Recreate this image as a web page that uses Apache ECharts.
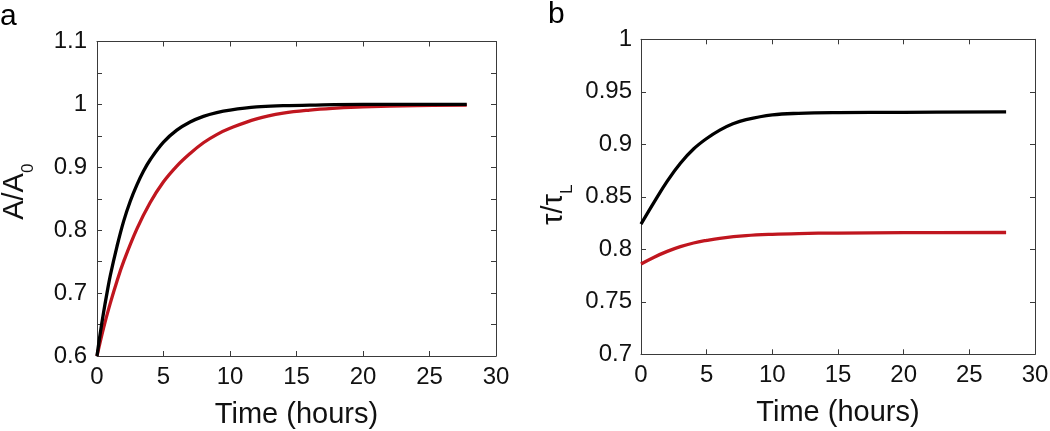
<!DOCTYPE html>
<html>
<head>
<meta charset="utf-8">
<script src="https://cdn.jsdelivr.net/npm/echarts@6/dist/echarts.min.js"></script>
<style>
html,body{margin:0;padding:0;background:#fff;}
#chart{width:1050px;height:431px;}
</style>
</head>
<body>
<div id="chart"></div>
<script>
// ---- Panel a: A/A0 vs time ----
const timeA_black = [0, 0.25, 0.5, 0.75, 1, 1.5, 2, 2.5, 3, 3.5, 4, 5, 6, 7, 8, 9, 10, 12, 14, 16, 20, 24, 27.8];
const valA_black  = [0.6, 0.637, 0.67, 0.7, 0.728, 0.774, 0.814, 0.846, 0.872, 0.894, 0.912, 0.94, 0.959, 0.972, 0.981, 0.987, 0.991, 0.996, 0.998, 0.999, 1.0, 1.0, 1.0];
const timeA_red   = [0, 0.5, 1, 1.5, 2, 3, 4, 5, 6, 7, 8, 9, 10, 12, 14, 16, 18, 20, 24, 27.8];
const valA_red    = [0.6, 0.645, 0.684, 0.719, 0.75, 0.802, 0.844, 0.877, 0.902, 0.922, 0.939, 0.952, 0.962, 0.977, 0.986, 0.991, 0.994, 0.996, 0.998, 0.999];

// ---- Panel b: tau/tauL vs time ----
const timeB_black = [0, 1, 2, 3, 4, 5, 6, 7, 8, 10, 12, 15, 20, 27.8];
const valB_black  = [0.824, 0.845, 0.865, 0.882, 0.8955, 0.9055, 0.9135, 0.9195, 0.9235, 0.928, 0.9295, 0.9302, 0.9305, 0.9308];
const timeB_red   = [0, 1, 2, 3, 4, 5, 6, 8, 10, 12, 15, 20, 27.8];
const valB_red    = [0.786, 0.7925, 0.798, 0.8025, 0.806, 0.8085, 0.8105, 0.813, 0.8143, 0.815, 0.8155, 0.8158, 0.816];

// ---- Axes / labels ----
const xTicks = {min: 0, max: 30, interval: 5};
const yTicksA = {min: 0.6, max: 1.1, interval: 0.05};
const yTicksB = {min: 0.7, max: 1.0, interval: 0.05};
const panelLabels = ['a', 'b'];
const xTitle = 'Time (hours)';

const FONT = "'Liberation Sans', Arial, sans-serif";
const AXIS_COLOR = '#3a3a3a';
const TEXT_COLOR = '#111';
const RED = '#c0161f';

function pairs(t, v) { return t.map((x, i) => [x, v[i]]); }
function fmt(v) { return String(parseFloat(v.toFixed(2))); }

function baseAxis(extra) {
  return Object.assign({
    type: 'value',
    axisLine: {show: true, onZero: false, lineStyle: {color: AXIS_COLOR, width: 1}},
    axisTick: {show: true, inside: true, length: 5, lineStyle: {color: AXIS_COLOR}},
    splitLine: {show: false},
    axisLabel: {fontFamily: FONT, fontSize: 24, color: TEXT_COLOR}
  }, extra);
}

const grids = [
  {left: 97, top: 41.5, width: 399, height: 314.5, containLabel: false, outerBoundsMode: 'none'},
  {left: 641, top: 39.3, width: 394, height: 315, containLabel: false, outerBoundsMode: 'none'}
];

const xAxes = [];
const yAxes = [];
[0, 1].forEach(g => {
  xAxes.push(baseAxis(Object.assign({gridIndex: g, position: 'bottom',
    name: xTitle, nameLocation: 'middle', nameGap: 44,
    nameTextStyle: {fontFamily: FONT, fontSize: 29, color: TEXT_COLOR},
    axisLabel: {fontFamily: FONT, fontSize: 24, color: TEXT_COLOR, margin: 9}
  }, xTicks)));
  xAxes.push(baseAxis(Object.assign({gridIndex: g, position: 'top',
    axisLabel: {show: false}}, xTicks)));
});

yAxes.push(baseAxis(Object.assign({gridIndex: 0, position: 'left',
  name: '{m|A/A}{s|0}', nameLocation: 'middle', nameGap: 67,
  nameTextStyle: {fontFamily: FONT, color: TEXT_COLOR, padding: [0, 0, 0, 14], rich: {
    m: {fontFamily: FONT, fontSize: 29, lineHeight: 30, verticalAlign: 'top', color: TEXT_COLOR},
    s: {fontFamily: FONT, fontSize: 17, lineHeight: 17, verticalAlign: 'top', padding: [20, 0, 0, 0], color: TEXT_COLOR}
  }},
  axisLabel: {fontFamily: FONT, fontSize: 24, color: TEXT_COLOR, margin: 10,
    formatter: v => (Math.round(v * 100) % 10 === 0 ? fmt(v) : '')}
}, yTicksA)));
yAxes.push(baseAxis(Object.assign({gridIndex: 0, position: 'right',
  axisLabel: {show: false}}, yTicksA)));

yAxes.push(baseAxis(Object.assign({gridIndex: 1, position: 'left',
  name: '{m|τ/τ}{s|L}', nameLocation: 'middle', nameGap: 72,
  nameTextStyle: {fontFamily: FONT, color: TEXT_COLOR, padding: [0, 16, 0, 0], rich: {
    m: {fontFamily: FONT, fontSize: 29, lineHeight: 30, verticalAlign: 'top', color: TEXT_COLOR},
    s: {fontFamily: FONT, fontSize: 17, lineHeight: 17, verticalAlign: 'top', padding: [20, 0, 0, 0], color: TEXT_COLOR}
  }},
  axisLabel: {fontFamily: FONT, fontSize: 24, color: TEXT_COLOR, margin: 9, formatter: v => fmt(v)}
}, yTicksB)));
yAxes.push(baseAxis(Object.assign({gridIndex: 1, position: 'right',
  axisLabel: {show: false}}, yTicksB)));

function line(xi, yi, data, color) {
  return {type: 'line', xAxisIndex: xi, yAxisIndex: yi, data: data,
    showSymbol: false, smooth: 0.4,
    lineStyle: {color: color, width: 3.3}, itemStyle: {color: color}, z: color === RED ? 2 : 3};
}

const chart = echarts.init(document.getElementById('chart'), null, {renderer: 'canvas'});
chart.setOption({
  animation: false,
  backgroundColor: '#fff',
  grid: grids,
  xAxis: xAxes,
  yAxis: yAxes,
  series: [
    line(0, 0, pairs(timeA_red, valA_red), RED),
    line(0, 0, pairs(timeA_black, valA_black), '#000'),
    line(2, 2, pairs(timeB_red, valB_red), RED),
    line(2, 2, pairs(timeB_black, valB_black), '#000')
  ],
  graphic: [
    {type: 'text', left: 0, top: 2, style: {text: panelLabels[0], fontFamily: FONT, fontSize: 30, fill: '#000'}},
    {type: 'text', left: 548, top: 0, style: {text: panelLabels[1], fontFamily: FONT, fontSize: 30, fill: '#000'}}
  ]
});
</script>
</body>
</html>
